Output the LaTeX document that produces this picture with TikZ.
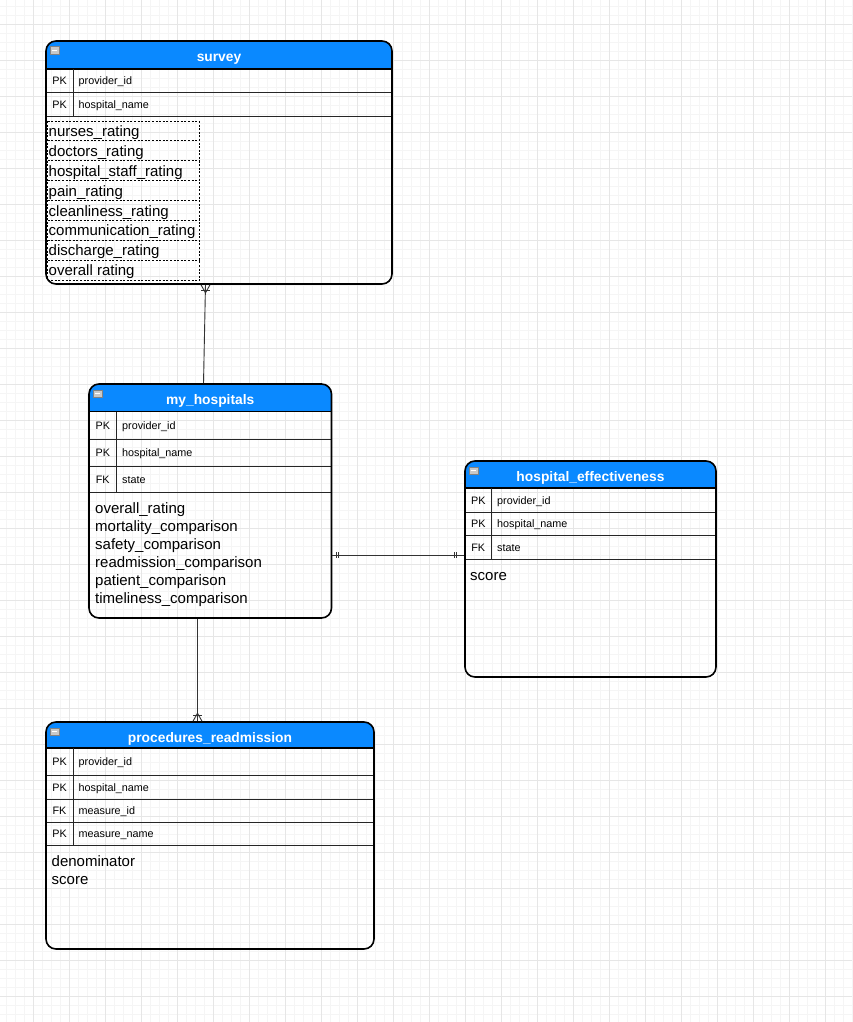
\documentclass[tikz,border=0pt]{standalone}
\usepackage{fontspec}
\setmainfont{Liberation Sans}
\usetikzlibrary{fit,calc}

\definecolor{hdrblue}{RGB}{10,137,255}
\definecolor{gridminor}{RGB}{245,245,245}
\definecolor{gridmajor}{RGB}{230,230,230}
\definecolor{iconfill}{RGB}{200,200,200}
\definecolor{iconedge}{RGB}{130,130,130}

\tikzset{
  tblbox/.style={draw=black, line width=1.6pt, rounded corners=10pt, inner sep=0pt},
  hdrline/.style={draw=black, line width=1.5pt},
  rowline/.style={draw=black!85, line width=0.9pt},
  divline/.style={draw=black!85, line width=0.9pt},
  titletxt/.style={text=white, font=\bfseries\fontsize{13.8}{16}\selectfont, inner sep=0pt, anchor=base},
  keytxt/.style={font=\fontsize{10.8}{13}\selectfont, inner sep=0pt, anchor=base},
  fieldtxt/.style={font=\fontsize{10.8}{13}\selectfont, inner sep=0pt, anchor=base west},
  bodytxt/.style={font=\fontsize{15}{18}\selectfont, inner sep=0pt, anchor=base west},
  dashed rule/.style={draw=black, line width=0.8pt, dash pattern=on 2pt off 1.6pt},
  dashcell/.style={minimum width=151pt, minimum height=19.875pt, inner sep=0pt, anchor=north west},
  icon/.style={fill=iconfill, draw=iconedge, line width=0.5pt, minimum width=8.5pt,
    minimum height=7.5pt, inner sep=0pt},
  conn/.style={draw=black!80, line width=0.9pt},
}

% table header: blue band with rounded top corners, title and collapse icon
\newcommand\ertable[7]{%
  \fill[hdrblue] (#2,#6) [rounded corners=10pt] -- (#2,#3) -- (#4,#3) [sharp corners] -- (#4,#6) -- cycle;
  \draw[hdrline] (#2,#6) -- (#4,#6);
  \node[titletxt] (#1-title) at ({(#2+#4)/2},#3+20.5) {#7};
  \node[icon] (#1-icon) at (#2+8.5,#3+9.5) {};
  \draw[white, line width=1.1pt] ([xshift=1.6pt]#1-icon.west) -- ([xshift=-1.6pt]#1-icon.east);
}
% key row: bottom rule, key column divider, key and field name
\newcommand\errow[8]{%
  \draw[rowline] (#2,#6) -- (#4,#6);
  \draw[divline] (#3,#5) -- (#3,#6);
  \node[keytxt] (#1-key) at ({(#2+#3)/2},{(#5+#6)/2+4.2}) {#7};
  \node[fieldtxt] (#1) at (#3+5.5,{(#5+#6)/2+4.2}) {#8};
}
% outer frame of a table
\newcommand\erframe[5]{%
  \node[tblbox, fit={(#2,#3) (#4,#5)}] (#1) {};
}

\begin{document}
\begin{tikzpicture}[x=1pt, y=-1pt]
\useasboundingbox (0,0) rectangle (852,1022);
\fill[white] (0,0) rectangle (852,1022);

% background grid
\foreach \i in {0,...,94} \draw[gridminor, line width=0.8pt] (6+9*\i,0) -- (6+9*\i,1022);
\foreach \j in {0,...,112} \draw[gridminor, line width=0.8pt] (0,6+9*\j) -- (852,6+9*\j);
\foreach \i in {0,...,23} \draw[gridmajor, line width=0.8pt] (33+36*\i,0) -- (33+36*\i,1022);
\foreach \j in {0,...,27} \draw[gridmajor, line width=0.8pt] (0,24+36*\j) -- (852,24+36*\j);

% ---- survey ----
\ertable{survey}{46}{41}{392}{284}{69}{survey}
\errow{sv-r1}{46}{73}{392}{69}{92.5}{PK}{provider\_id}
\errow{sv-r2}{46}{73}{392}{92.5}{116}{PK}{hospital\_name}
\foreach \t [count=\i] in {nurses\_rating, doctors\_rating, hospital\_staff\_rating,
    pain\_rating, cleanliness\_rating, communication\_rating, discharge\_rating, overall rating} {
  \node[dashcell] (sv-c\i) at (47.5,{121+(\i-1)*19.875}) {};
  \node[bodytxt] (sv-t\i) at (48.5,{121+(\i-1)*19.875+15.5}) {\t};
}
% dotted cell rules of the attribute list
\foreach \i in {1,...,8} \draw[dashed rule] (sv-c\i.north west) -- (sv-c\i.north east);
\draw[dashed rule] (sv-c8.south west) -- (sv-c8.south east);
\draw[dashed rule] (sv-c1.north west) -- (sv-c8.south west);
\draw[dashed rule] (sv-c1.north east) -- (sv-c8.south east);
\erframe{survey}{46}{41}{392}{284}

% ---- my_hospitals ----
\ertable{mh}{89}{384}{331.5}{618}{411.5}{my\_hospitals}
\errow{mh-r1}{89}{116.5}{331.5}{411.5}{439}{PK}{provider\_id}
\errow{mh-r2}{89}{116.5}{331.5}{439}{466}{PK}{hospital\_name}
\errow{mh-r3}{89}{116.5}{331.5}{466}{492.5}{FK}{state}
\foreach \t [count=\i] in {overall\_rating, mortality\_comparison, safety\_comparison,
    readmission\_comparison, patient\_comparison, timeliness\_comparison} {
  \node[bodytxt] (mh-t\i) at (95,{513+(\i-1)*18}) {\t};
}
\erframe{my_hospitals}{89}{384}{331.5}{618}

% ---- hospital_effectiveness ----
\ertable{he}{465}{461}{716}{677}{488}{hospital\_effectiveness}
\errow{he-r1}{465}{491.5}{716}{488}{512}{PK}{provider\_id}
\errow{he-r2}{465}{491.5}{716}{512}{535.5}{PK}{hospital\_name}
\errow{he-r3}{465}{491.5}{716}{535.5}{559.5}{FK}{state}
\node[bodytxt] (he-t1) at (470,580) {score};
\erframe{hospital_effectiveness}{465}{461}{716}{677}

% ---- procedures_readmission ----
\ertable{pr}{46}{722}{374}{949}{748}{procedures\_readmission}
\errow{pr-r1}{46}{73}{374}{748}{775.5}{PK}{provider\_id}
\errow{pr-r2}{46}{73}{374}{775.5}{799}{PK}{hospital\_name}
\errow{pr-r3}{46}{73}{374}{799}{822.5}{FK}{measure\_id}
\errow{pr-r4}{46}{73}{374}{822.5}{845}{PK}{measure\_name}
\node[bodytxt] (pr-t1) at (51.5,866) {denominator};
\node[bodytxt] (pr-t2) at (51.5,884) {score};
\erframe{procedures_readmission}{46}{722}{374}{949}

% ---- relationships ----
\coordinate (x-sv) at (205.5,0);
\coordinate (x-mh) at (203.5,0);
\coordinate (x-pr) at (197.5,0);
\coordinate (y-he) at (0,555);

% survey (many) -- my_hospitals
\coordinate (e1) at (survey.south -| x-sv);
\draw[conn] (e1) -- (my_hospitals.north -| x-mh);
\draw[conn] ($(e1)+(-4.5,0)$) -- ($(e1)+(0,8)$) -- ($(e1)+(4.5,0)$);
\draw[conn] ($(e1)+(-4.5,5.5)$) -- ($(e1)+(4.5,5.5)$);

% my_hospitals -- procedures_readmission (many)
\coordinate (e2) at (procedures_readmission.north -| x-pr);
\draw[conn] (my_hospitals.south -| x-pr) -- (e2);
\draw[conn] ($(e2)+(-4.5,0)$) -- ($(e2)+(0,-8)$) -- ($(e2)+(4.5,0)$);
\draw[conn] ($(e2)+(-4.5,-5.5)$) -- ($(e2)+(4.5,-5.5)$);

% my_hospitals (one) -- hospital_effectiveness (one)
\coordinate (e3) at (my_hospitals.east |- y-he);
\coordinate (e4) at (hospital_effectiveness.west |- y-he);
\draw[conn] (e3) -- (e4);
\foreach \d in {4,6.5} \draw[conn] ($(e3)+(\d,-3)$) -- ($(e3)+(\d,3)$);
\foreach \d in {7.5,10} \draw[conn] ($(e4)+(-\d,-3)$) -- ($(e4)+(-\d,3)$);
\end{tikzpicture}
\end{document}
